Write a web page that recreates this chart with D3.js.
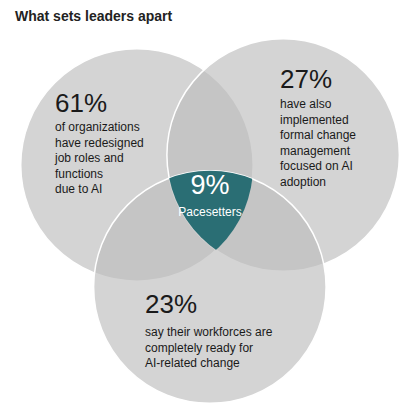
<!DOCTYPE html>
<html><head><meta charset="utf-8">
<script src="https://cdn.jsdelivr.net/npm/d3@7"></script>
<style>body{margin:0;background:#fff}</style>
</head><body>
<svg id="chart" width="403" height="409"></svg>
<script>
// circles: [cx, cy] in a 0..100 unit space
const sets = [
  {name: "left", cx: 30.7, cy: 37.8, pct: "61%", lines: ["of organizations", "have redesigned", "job roles and", "functions", "due to AI"]},
  {name: "right", cx: 67.8, cy: 35.3, pct: "27%", lines: ["have also", "implemented", "formal change", "management", "focused on AI", "adoption"]},
  {name: "bottom", cx: 49.2, cy: 68.8, pct: "23%", lines: ["say their workforces are", "completely ready for", "AI-related change"]}
]
const radius = 29.5
const center = {pct: "9%", label: "Pacesetters"}
const title = "What sets leaders apart"

const svg = d3.select("#chart")
const x = d3.scaleLinear().domain([0, 100]).range([16, 410])
const r = x(radius) - x(0)

svg.append("text").attr("x", 15).attr("y", 21)
  .style("font", "bold 14px 'Liberation Sans', Arial").attr("fill", "#222").text(title)

const defs = svg.append("defs")
sets.forEach(s => {
  defs.append("clipPath").attr("id", "clip-" + s.name)
    .append("circle").attr("cx", x(s.cx)).attr("cy", x(s.cy)).attr("r", r)
})

svg.selectAll("circle.set").data(sets).enter().append("circle")
  .attr("class", "set")
  .attr("cx", d => x(d.cx)).attr("cy", d => x(d.cy)).attr("r", r)
  .attr("fill", "#bdbdbd").attr("fill-opacity", 0.65)
  .attr("stroke", "#fff").attr("stroke-width", 1.5)

// triple intersection
svg.append("g").attr("clip-path", "url(#clip-left)")
  .append("g").attr("clip-path", "url(#clip-right)")
  .append("circle").attr("cx", x(sets[2].cx)).attr("cy", x(sets[2].cy)).attr("r", r)
  .attr("fill", "#2a6e74")

const font = "'Liberation Sans', Arial, sans-serif"
const pos = {left: [55, 112, 131], right: [280, 88, 108], bottom: [145, 313, 336]}
sets.forEach(s => {
  const [tx, py, ly] = pos[s.name]
  svg.append("text").attr("x", tx).attr("y", py)
    .style("font-family", font).style("font-size", "26px").attr("fill", "#1a1a1a").text(s.pct)
  s.lines.forEach((l, i) => {
    svg.append("text").attr("x", tx).attr("y", ly + i * 15.5)
      .style("font-family", font).style("font-size", "12px").attr("fill", "#1a1a1a").text(l)
  })
})

svg.append("text").attr("x", 210).attr("y", 194).attr("text-anchor", "middle")
  .style("font-family", font).style("font-size", "27px").attr("fill", "#fff").text(center.pct)
svg.append("text").attr("x", 210).attr("y", 216).attr("text-anchor", "middle")
  .style("font-family", font).style("font-size", "12px").attr("fill", "#fff").text(center.label)
</script>
</body></html>
